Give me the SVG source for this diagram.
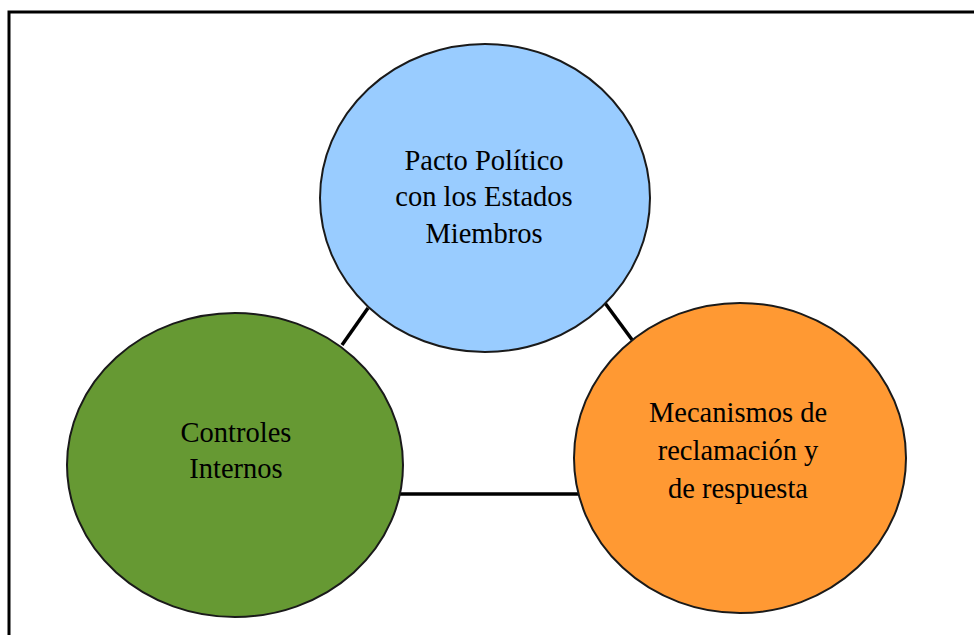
<svg xmlns="http://www.w3.org/2000/svg" width="974" height="635" viewBox="0 0 974 635">
<style>
.node{stroke:#1a1a1a;stroke-width:2}
.lbl{font-family:"Liberation Serif","Times New Roman",serif;font-size:28.5px;fill:#000;text-anchor:middle}
.conn{stroke:#000;stroke-width:3.5;fill:none}
</style>
<rect x="0" y="0" width="974" height="635" fill="#fff"/>
<rect x="9" y="12" width="980" height="640" fill="none" stroke="#000" stroke-width="3"/>
<g id="connectors">
<line class="conn" x1="342" y1="345" x2="368" y2="308"/>
<line class="conn" x1="605" y1="303" x2="633" y2="341"/>
<line class="conn" x1="400" y1="494" x2="580" y2="494"/>
</g>
<g id="pacto">
<ellipse class="node" cx="485" cy="198" rx="165" ry="154" fill="#99CCFF"/>
<text class="lbl" x="484" y="170">Pacto Político</text>
<text class="lbl" x="484" y="206">con los Estados</text>
<text class="lbl" x="484" y="243">Miembros</text>
</g>
<g id="controles">
<ellipse class="node" cx="235" cy="465" rx="168" ry="152" fill="#669933"/>
<text class="lbl" x="236" y="442">Controles</text>
<text class="lbl" x="236" y="478">Internos</text>
</g>
<g id="mecanismos">
<ellipse class="node" cx="740" cy="458" rx="166" ry="155" fill="#FF9933"/>
<text class="lbl" x="738" y="422">Mecanismos de</text>
<text class="lbl" x="738" y="460">reclamación y</text>
<text class="lbl" x="738" y="498">de respuesta</text>
</g>
</svg>
